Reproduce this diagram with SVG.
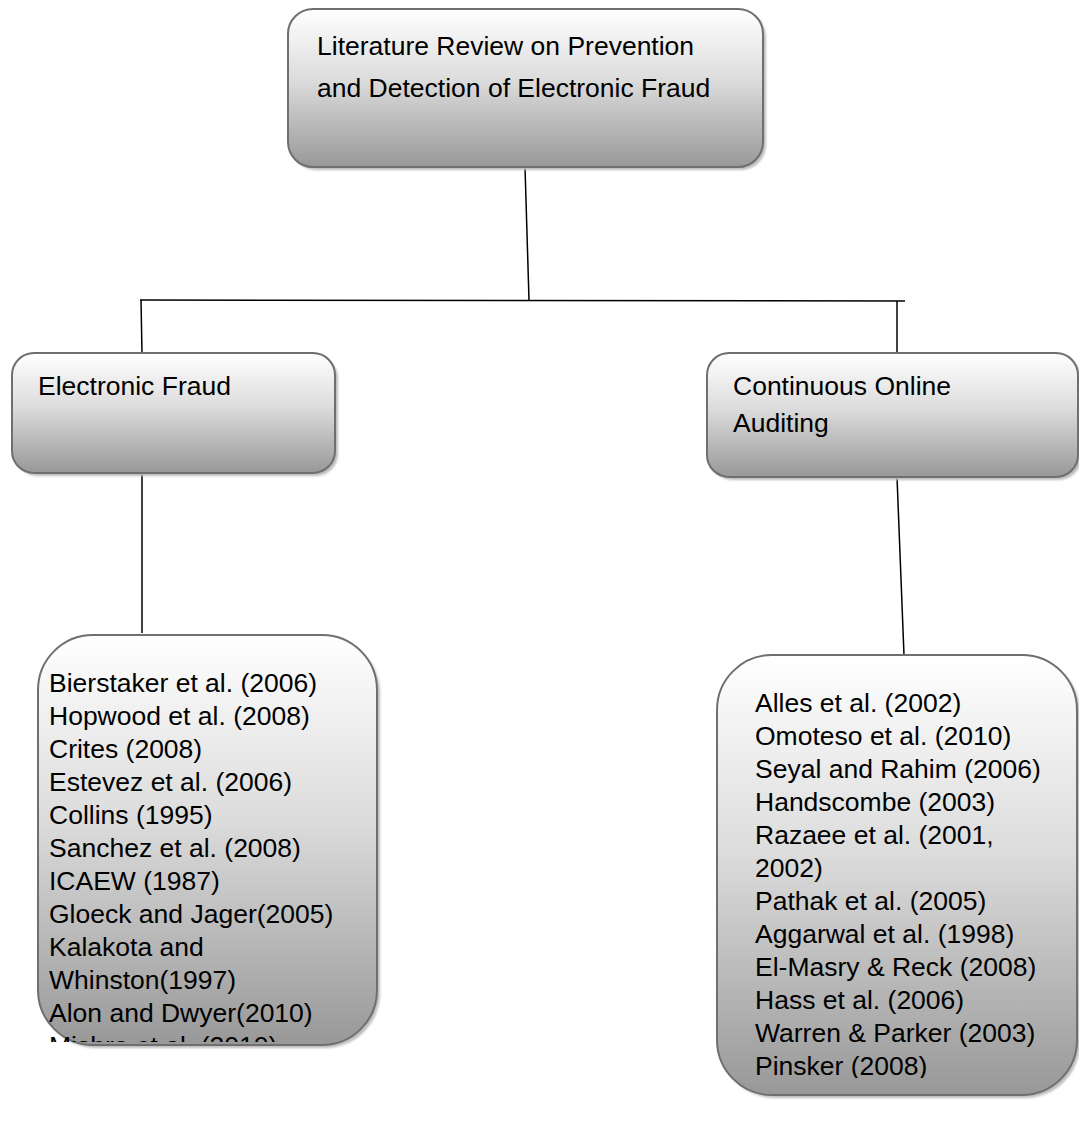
<svg xmlns="http://www.w3.org/2000/svg" width="1079" height="1126" viewBox="0 0 1079 1126">
  <style>
    .box { fill: url(#boxFill); stroke: #6f6f6f; stroke-width: 2; }
    .shadow { fill: #bdbdbd; filter: url(#soft); }
    .label { font-family: "Liberation Sans", Arial, sans-serif; font-size: 26.5px; fill: #000; }
    .wire { stroke: #000; stroke-width: 1.5; fill: none; }
  </style>
  <defs>
    <linearGradient id="boxFill" x1="0" y1="0" x2="0" y2="1">
      <stop offset="0" stop-color="#ffffff"/>
      <stop offset="0.45" stop-color="#dcdcdc"/>
      <stop offset="1" stop-color="#989898"/>
    </linearGradient>
    <filter id="soft" x="-5%" y="-5%" width="110%" height="110%">
      <feGaussianBlur stdDeviation="1"/>
    </filter>
    <clipPath id="clipLeftList">
      <rect x="38" y="635" width="339" height="407"/>
    </clipPath>
    <clipPath id="clipRightList">
      <rect x="717" y="655" width="362" height="423"/>
    </clipPath>
  </defs>

  <rect width="1079" height="1126" fill="#ffffff"/>

  <!-- connectors -->
  <g id="connectors">
    <line class="wire" x1="525" y1="167" x2="529" y2="300"/>
    <line class="wire" x1="140" y1="300" x2="905" y2="301"/>
    <line class="wire" x1="141" y1="300" x2="142" y2="353"/>
    <line class="wire" x1="897" y1="301" x2="897" y2="353"/>
    <line class="wire" x1="142" y1="473" x2="142" y2="633"/>
    <line class="wire" x1="897" y1="477" x2="904" y2="655"/>
  </g>

  <!-- root topic -->
  <g id="node-root">
    <rect class="shadow" x="291" y="12" width="475" height="158" rx="25"/>
    <rect class="box" x="288" y="9" width="475" height="158" rx="25"/>
    <text class="label" x="317" y="55">Literature Review on Prevention</text>
    <text class="label" x="317" y="97">and Detection of Electronic Fraud</text>
  </g>

  <!-- left branch -->
  <g id="node-electronic-fraud">
    <rect class="shadow" x="15" y="356" width="323" height="120" rx="22"/>
    <rect class="box" x="12" y="353" width="323" height="120" rx="22"/>
    <text class="label" x="38" y="395">Electronic Fraud</text>
  </g>

  <!-- right branch -->
  <g id="node-continuous-auditing">
    <rect class="shadow" x="710" y="356" width="371" height="124" rx="22"/>
    <rect class="box" x="707" y="353" width="371" height="124" rx="22"/>
    <text class="label" x="733" y="395">Continuous Online</text>
    <text class="label" x="733" y="432">Auditing</text>
  </g>

  <!-- references for electronic fraud -->
  <g id="node-fraud-references">
    <rect class="shadow" x="41" y="638" width="339" height="410" rx="55"/>
    <rect class="box" x="38" y="635" width="339" height="410" rx="55"/>
    <g clip-path="url(#clipLeftList)">
      <text class="label" x="49" y="692">Bierstaker et al. (2006)</text>
      <text class="label" x="49" y="725">Hopwood et al. (2008)</text>
      <text class="label" x="49" y="758">Crites (2008)</text>
      <text class="label" x="49" y="791">Estevez et al. (2006)</text>
      <text class="label" x="49" y="824">Collins (1995)</text>
      <text class="label" x="49" y="857">Sanchez et al. (2008)</text>
      <text class="label" x="49" y="890">ICAEW (1987)</text>
      <text class="label" x="49" y="923">Gloeck and Jager(2005)</text>
      <text class="label" x="49" y="956">Kalakota and</text>
      <text class="label" x="49" y="989">Whinston(1997)</text>
      <text class="label" x="49" y="1022">Alon and Dwyer(2010)</text>
      <text class="label" x="49" y="1055">Mishra et al. (2010)</text>
    </g>
  </g>

  <!-- references for continuous online auditing -->
  <g id="node-auditing-references">
    <rect class="shadow" x="720" y="658" width="360" height="440" rx="55"/>
    <rect class="box" x="717" y="655" width="360" height="440" rx="55"/>
    <g clip-path="url(#clipRightList)">
      <text class="label" x="755" y="712">Alles et al. (2002)</text>
      <text class="label" x="755" y="745">Omoteso et al. (2010)</text>
      <text class="label" x="755" y="778">Seyal and Rahim (2006)</text>
      <text class="label" x="755" y="811">Handscombe (2003)</text>
      <text class="label" x="755" y="844">Razaee et al. (2001,</text>
      <text class="label" x="755" y="877">2002)</text>
      <text class="label" x="755" y="910">Pathak et al. (2005)</text>
      <text class="label" x="755" y="943">Aggarwal et al. (1998)</text>
      <text class="label" x="755" y="976">El-Masry &amp; Reck (2008)</text>
      <text class="label" x="755" y="1009">Hass et al. (2006)</text>
      <text class="label" x="755" y="1042">Warren &amp; Parker (2003)</text>
      <text class="label" x="755" y="1075">Pinsker (2008)</text>
    </g>
  </g>
</svg>
